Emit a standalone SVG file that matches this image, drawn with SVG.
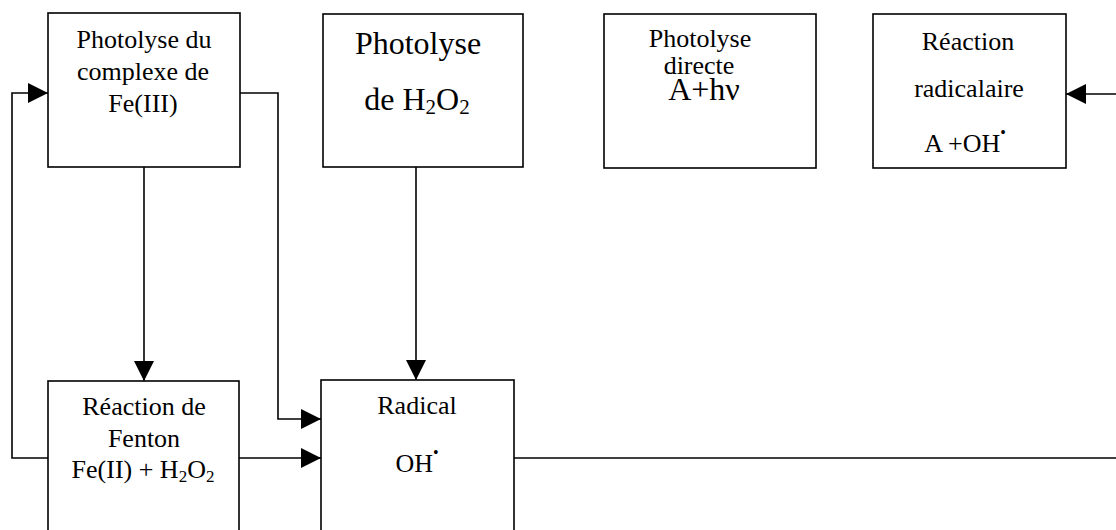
<svg xmlns="http://www.w3.org/2000/svg" width="1116" height="530" viewBox="0 0 1116 530">
<style>
.box{fill:#fff;stroke:#000;stroke-width:1.6}
.ln{fill:none;stroke:#000;stroke-width:1.6}
text{font-family:"Liberation Serif","Times New Roman",serif;fill:#000;text-anchor:middle}
.s{font-size:26px}
.b{font-size:32px}
</style>
<defs>
<marker id="ah" viewBox="0 0 20 20" refX="20" refY="10" markerWidth="20" markerHeight="20" markerUnits="userSpaceOnUse" orient="auto">
<path d="M0,0 L20,10 L0,20 z" fill="#000"/>
</marker>
</defs>
<rect width="1116" height="530" fill="#fff"/>
<g id="connectors">
<path class="ln" d="M52,458 H12 V93 H48" marker-end="url(#ah)"/>
<path class="ln" d="M240,93 H278 V419 H321" marker-end="url(#ah)"/>
<path class="ln" d="M144,167 V381" marker-end="url(#ah)"/>
<path class="ln" d="M416,167 V380" marker-end="url(#ah)"/>
<path class="ln" d="M239,458 H321" marker-end="url(#ah)"/>
<path class="ln" d="M510,458 H1116"/>
<path class="ln" d="M1116,94 H1066" marker-end="url(#ah)"/>
</g>
<g id="n1">
<rect class="box" x="48" y="13" width="192" height="154"/>
<text class="s" x="144" y="48">Photolyse du</text>
<text class="s" x="143" y="80">complexe de</text>
<text class="s" x="143" y="112">Fe(III)</text>
</g>
<g id="n2">
<rect class="box" x="323" y="14" width="200" height="153"/>
<text class="b" x="418" y="54">Photolyse</text>
<text class="b" x="417" y="110">de H<tspan font-size="21" dy="4">2</tspan><tspan dy="-4">O</tspan><tspan font-size="21" dy="4">2</tspan></text>
</g>
<g id="n3">
<rect class="box" x="604" y="14" width="212" height="154"/>
<text class="s" x="700" y="47">Photolyse</text>
<text class="s" x="699" y="74">directe</text>
<text class="b" x="704" y="100">A+hν</text>
</g>
<g id="n4">
<rect class="box" x="873" y="14" width="193" height="154"/>
<text class="s" x="968" y="50">Réaction</text>
<text class="s" x="969" y="97">radicalaire</text>
<text class="s" x="965" y="152">A +OH<tspan font-size="16" dy="-14">•</tspan></text>
</g>
<g id="n5">
<rect class="box" x="48" y="381" width="191" height="160"/>
<text class="s" x="144" y="415">Réaction de</text>
<text class="s" x="144" y="447">Fenton</text>
<text class="s" x="143" y="478">Fe(II) + H<tspan font-size="17" dy="4">2</tspan><tspan dy="-4">O</tspan><tspan font-size="17" dy="4">2</tspan></text>
</g>
<g id="n6">
<rect class="box" x="321" y="380" width="193" height="161"/>
<text class="s" x="417" y="414">Radical</text>
<text class="s" x="417" y="472">OH<tspan font-size="16" dy="-14">•</tspan></text>
</g>
</svg>
